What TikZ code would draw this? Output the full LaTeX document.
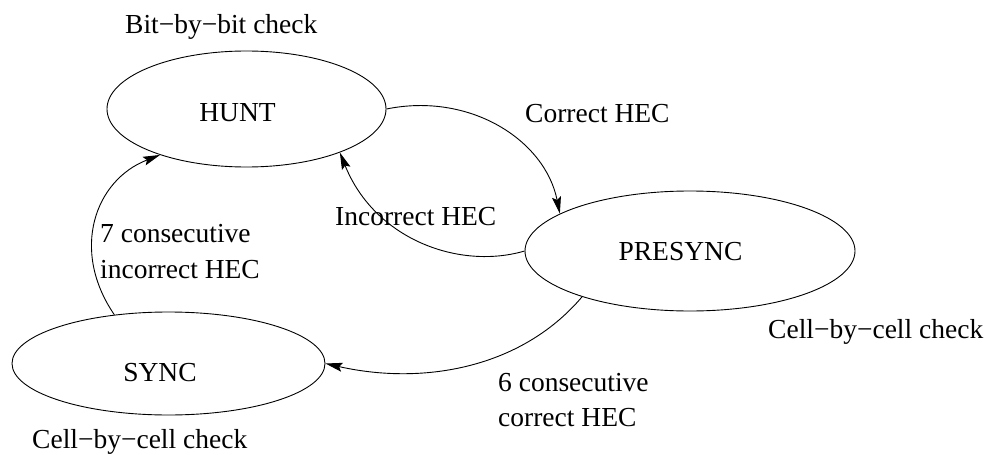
\documentclass[tikz,border=0pt]{standalone}
\usepackage{fontspec}
\setmainfont{Liberation Serif}
\newfontfamily\timesfont{Liberation Serif}
\usetikzlibrary{shapes.geometric,arrows.meta}
\begin{document}
\begin{tikzpicture}[x=1pt,y=-1pt,
  stateshape/.style={draw,ellipse,line width=0.9pt,inner sep=0pt},
  lbl/.style={inner sep=0pt,font=\timesfont\fontsize{27.5}{33}\selectfont},
  trans/.style={line width=0.9pt,-{Stealth[length=17pt,width=9pt,inset=3pt]}}]
\useasboundingbox (0,0) rectangle (989,455);
% states
\node[stateshape,minimum width=279pt,minimum height=116pt] (hunt) at (246.5,109) {};
\node[stateshape,minimum width=330pt,minimum height=120pt] (presync) at (690,251) {};
\node[stateshape,minimum width=313pt,minimum height=103pt] (sync) at (168.5,363.5) {};
% state names
\node[lbl,anchor=base] (huntname) at (237.5,121) {HUNT};
\node[lbl,anchor=base] (presyncname) at (680.5,260) {PRESYNC};
\node[lbl,anchor=base] (syncname) at (160,381) {SYNC};
% annotations
\node[lbl,anchor=base west] (huntnote) at (125,34) {Bit−by−bit check};
\node[lbl,anchor=base west] (presyncnote) at (768,338) {Cell−by−cell check};
\node[lbl,anchor=base west] (syncnote) at (32,448) {Cell−by−cell check};
% transition labels
\node[lbl,anchor=base west] (l1) at (525,122) {Correct HEC};
\node[lbl,anchor=base west] (l2) at (335,225) {Incorrect HEC};
\node[lbl,anchor=base west] (l3a) at (100,242) {7 consecutive};
\node[lbl,anchor=base west] (l3b) at (100,278) {incorrect HEC};
\node[lbl,anchor=base west] (l4a) at (498,391) {6 consecutive};
\node[lbl,anchor=base west] (l4b) at (498,426) {correct HEC};
% transitions
\draw[trans] (hunt.0) .. controls (470,92) and (545,140) .. (presync.164);
\draw[trans] (presync.180) .. controls (460,270) and (375,240) .. (hunt.-25);
\draw[trans] (sync.138) .. controls (70,250) and (95,180) .. (hunt.-152.5);
\draw[trans] (presync.-157) .. controls (520,370) and (420,385) .. (sync.0);
\end{tikzpicture}
\end{document}
